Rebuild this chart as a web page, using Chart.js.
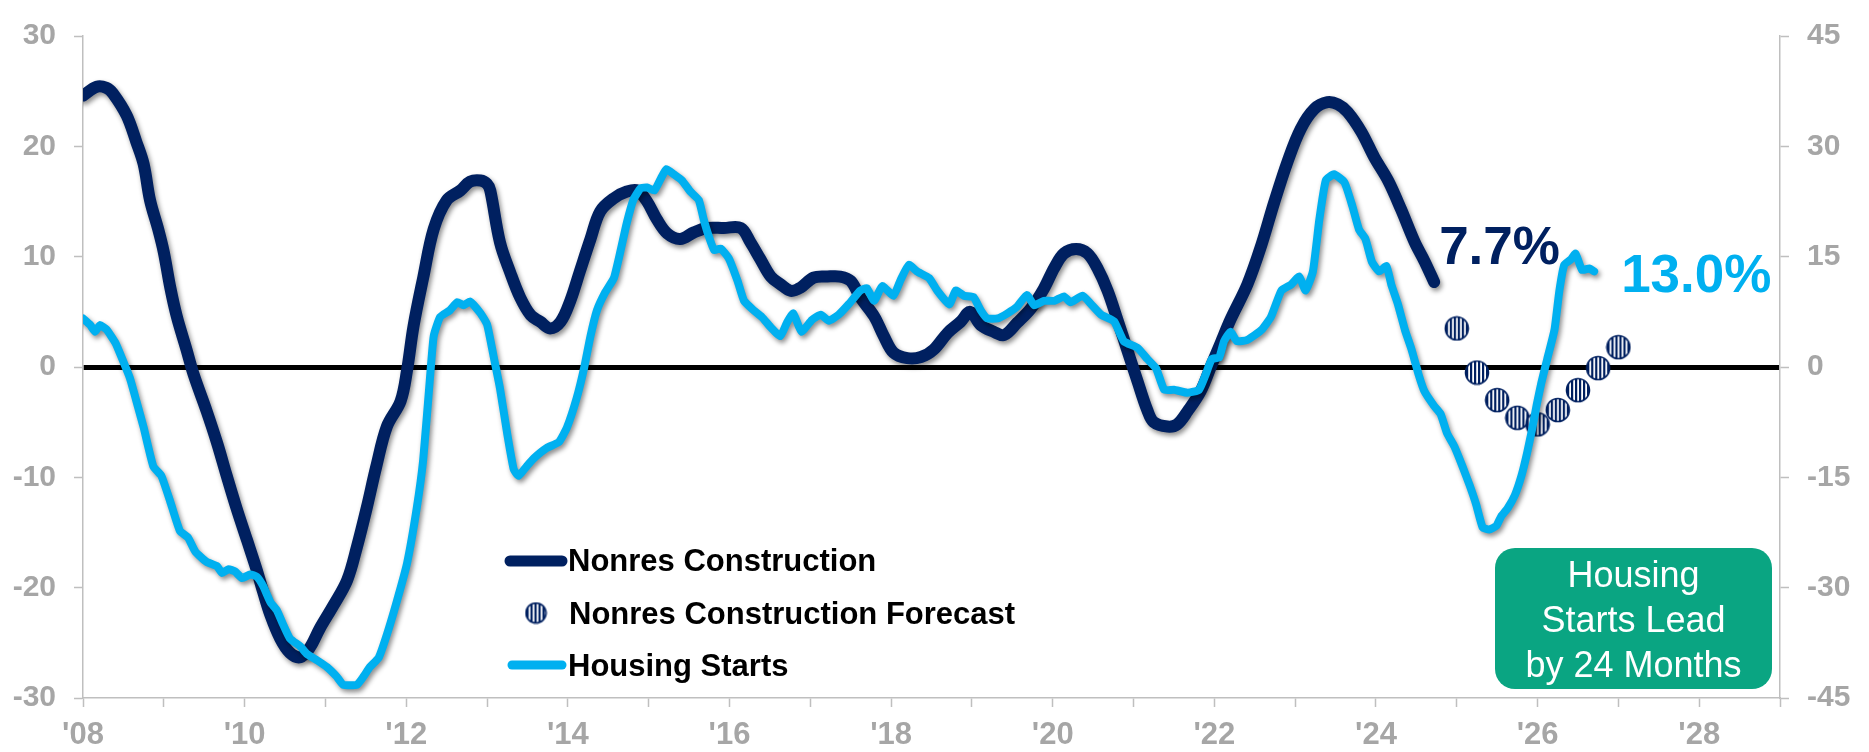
<!DOCTYPE html>
<html>
<head>
<meta charset="utf-8">
<title>Nonres Construction vs Housing Starts</title>
<script src="https://cdn.jsdelivr.net/npm/chart.js@4.4.1/dist/chart.umd.min.js"></script>
<style>
  html, body { margin: 0; padding: 0; background: #fff; }
  #wrap { width: 1869px; height: 752px; position: relative; }
</style>
</head>
<body>
<div id="wrap"><canvas id="myChart"></canvas></div>
<script>
// [year, % y/y]  -- nonresidential construction (left axis)
const nonresSeries = [
  [2008.00, 24.6], [2008.17, 25.4], [2008.29, 25.3], [2008.37, 24.8], [2008.54, 22.8],
  [2008.66, 20.4], [2008.75, 18.4], [2008.83, 15.1], [2008.93, 12.5], [2009.00, 10.4],
  [2009.08, 7.2], [2009.16, 4.6], [2009.28, 1.6], [2009.37, -0.7], [2009.53, -4.0],
  [2009.66, -6.9], [2009.78, -9.9], [2009.90, -12.8], [2010.03, -15.7], [2010.15, -18.4],
  [2010.23, -20.4], [2010.32, -22.5], [2010.44, -24.6], [2010.56, -25.9], [2010.69, -26.3],
  [2010.81, -25.4], [2010.93, -23.7], [2011.10, -21.6], [2011.27, -19.3], [2011.39, -16.3],
  [2011.51, -12.8], [2011.63, -9.0], [2011.76, -5.4], [2011.93, -3.1], [2012.01, -0.3],
  [2012.09, 3.7], [2012.21, 8.1], [2012.34, 12.5], [2012.50, 15.1], [2012.67, 16.0],
  [2012.79, 16.8], [2012.92, 16.9], [2013.00, 16.6], [2013.04, 16.0], [2013.16, 11.3],
  [2013.29, 8.5], [2013.41, 6.3], [2013.54, 4.7], [2013.66, 4.1], [2013.78, 3.5],
  [2013.91, 4.1], [2014.03, 6.0], [2014.15, 8.7], [2014.28, 11.6], [2014.40, 14.1],
  [2014.57, 15.3], [2014.73, 15.9], [2014.86, 16.0], [2014.98, 15.0], [2015.10, 13.4],
  [2015.23, 12.1], [2015.39, 11.6], [2015.56, 12.2], [2015.72, 12.6], [2015.93, 12.6],
  [2016.14, 12.6], [2016.26, 11.3], [2016.38, 9.8], [2016.51, 8.2], [2016.63, 7.5],
  [2016.76, 6.9], [2016.88, 7.2], [2017.04, 8.1], [2017.21, 8.2], [2017.37, 8.2],
  [2017.50, 7.8], [2017.62, 6.3], [2017.79, 4.6], [2017.91, 2.8], [2018.03, 1.3],
  [2018.20, 0.8], [2018.37, 0.9], [2018.53, 1.6], [2018.70, 3.1], [2018.86, 4.1],
  [2018.98, 5.0], [2019.11, 3.8], [2019.27, 3.2], [2019.40, 2.9], [2019.56, 4.0],
  [2019.73, 5.3], [2019.89, 7.1], [2020.02, 9.0], [2020.14, 10.3], [2020.29, 10.7],
  [2020.43, 10.3], [2020.55, 9.0], [2020.68, 6.9], [2020.80, 4.3], [2020.92, 1.6],
  [2021.05, -1.3], [2021.17, -3.9], [2021.25, -5.0], [2021.42, -5.4], [2021.54, -5.2],
  [2021.67, -4.0], [2021.83, -2.2], [2021.96, 0.1], [2022.08, 2.2], [2022.20, 4.3],
  [2022.41, 7.5], [2022.58, 11.0], [2022.74, 14.9], [2022.91, 18.7], [2023.07, 21.6],
  [2023.24, 23.4], [2023.40, 24.0], [2023.53, 23.8], [2023.65, 23.1], [2023.82, 21.3],
  [2023.98, 19.0], [2024.15, 16.9], [2024.31, 14.3], [2024.48, 11.3], [2024.60, 9.6],
  [2024.72, 7.7]
];

// quarterly forecast (left axis)
const forecastSeries = [
  [2025.00, 3.5], [2025.25, -0.5], [2025.50, -3.0], [2025.75, -4.6], [2026.00, -5.2],
  [2026.25, -3.9], [2026.50, -2.1], [2026.75, -0.1], [2027.00, 1.8]
];

// housing starts, shifted forward 24 months (right axis)
const housingSeries = [
  [2008.00, 6.6], [2008.09, 5.7], [2008.15, 4.8], [2008.21, 5.7], [2008.29, 5.1],
  [2008.40, 3.3], [2008.50, 0.7], [2008.58, -1.5], [2008.66, -4.6], [2008.75, -8.2],
  [2008.87, -13.5], [2008.97, -14.8], [2009.08, -18.3], [2009.20, -22.3], [2009.30, -23.2],
  [2009.39, -25.1], [2009.53, -26.5], [2009.66, -27.1], [2009.72, -28.0], [2009.80, -27.5],
  [2009.88, -27.8], [2009.97, -28.7], [2010.07, -28.2], [2010.15, -28.5], [2010.23, -29.8],
  [2010.32, -32.0], [2010.40, -33.1], [2010.48, -35.1], [2010.56, -36.9], [2010.69, -38.0],
  [2010.77, -39.0], [2010.90, -39.9], [2011.02, -40.8], [2011.14, -42.1], [2011.22, -43.2],
  [2011.39, -43.2], [2011.47, -42.1], [2011.55, -40.8], [2011.66, -39.5], [2011.76, -36.4],
  [2011.88, -32.0], [2012.01, -26.7], [2012.13, -19.2], [2012.21, -12.6], [2012.29, -2.0],
  [2012.34, 4.2], [2012.42, 6.8], [2012.54, 7.7], [2012.63, 8.8], [2012.71, 8.4],
  [2012.79, 8.9], [2012.92, 7.3], [2013.00, 5.8], [2013.08, 1.5], [2013.16, -2.9],
  [2013.25, -9.1], [2013.33, -13.9], [2013.39, -14.8], [2013.49, -13.5], [2013.58, -12.4],
  [2013.74, -11.0], [2013.89, -10.2], [2013.99, -8.2], [2014.11, -4.2], [2014.20, -0.2],
  [2014.28, 4.2], [2014.36, 7.7], [2014.46, 10.1], [2014.57, 12.1], [2014.65, 15.7],
  [2014.73, 19.6], [2014.81, 22.7], [2014.90, 24.3], [2014.98, 24.4], [2015.07, 24.0],
  [2015.15, 25.6], [2015.22, 26.9], [2015.31, 26.2], [2015.41, 25.4], [2015.52, 23.8],
  [2015.62, 22.7], [2015.68, 20.1], [2015.74, 17.9], [2015.81, 15.9], [2015.89, 16.1],
  [2015.99, 14.8], [2016.10, 11.7], [2016.18, 9.0], [2016.30, 7.7], [2016.40, 6.8],
  [2016.51, 5.4], [2016.63, 4.2], [2016.71, 6.0], [2016.79, 7.3], [2016.89, 4.8],
  [2017.02, 6.4], [2017.13, 7.1], [2017.23, 6.3], [2017.35, 7.1], [2017.48, 8.6],
  [2017.62, 10.4], [2017.70, 10.7], [2017.79, 9.0], [2017.89, 11.0], [2018.03, 9.7],
  [2018.12, 11.9], [2018.22, 13.9], [2018.32, 13.0], [2018.47, 12.1], [2018.57, 10.4],
  [2018.72, 8.5], [2018.80, 10.4], [2018.90, 9.7], [2019.02, 9.5], [2019.11, 7.7],
  [2019.19, 6.6], [2019.32, 6.6], [2019.44, 7.3], [2019.56, 8.2], [2019.68, 9.8],
  [2019.77, 8.4], [2019.89, 9.0], [2020.02, 9.0], [2020.14, 9.6], [2020.22, 8.8],
  [2020.37, 9.7], [2020.47, 8.6], [2020.60, 7.1], [2020.76, 6.2], [2020.88, 3.5],
  [2021.05, 2.6], [2021.17, 1.1], [2021.28, -0.2], [2021.38, -3.1], [2021.50, -3.1],
  [2021.67, -3.5], [2021.81, -3.1], [2021.89, -1.1], [2021.97, 1.1], [2022.06, 1.3],
  [2022.12, 3.5], [2022.20, 4.8], [2022.28, 3.5], [2022.41, 3.7], [2022.58, 5.0],
  [2022.70, 6.8], [2022.83, 10.4], [2022.95, 11.2], [2023.05, 12.3], [2023.13, 10.4],
  [2023.22, 13.0], [2023.30, 20.1], [2023.38, 25.4], [2023.48, 26.2], [2023.61, 25.1],
  [2023.71, 21.8], [2023.79, 18.7], [2023.87, 17.4], [2023.95, 14.3], [2024.04, 13.0],
  [2024.13, 13.7], [2024.19, 11.2], [2024.27, 8.6], [2024.36, 5.0], [2024.44, 2.4],
  [2024.53, -1.1], [2024.60, -3.3], [2024.72, -5.3], [2024.80, -6.4], [2024.88, -9.0],
  [2024.97, -10.8], [2025.07, -13.5], [2025.16, -16.1], [2025.24, -18.7], [2025.32, -21.8],
  [2025.40, -22.1], [2025.49, -21.6], [2025.55, -20.3], [2025.63, -19.2], [2025.72, -17.4],
  [2025.80, -14.8], [2025.87, -11.7], [2025.93, -8.6], [2025.99, -5.1], [2026.05, -2.0],
  [2026.12, 1.1], [2026.21, 5.1], [2026.27, 10.4], [2026.33, 13.9], [2026.41, 14.6],
  [2026.47, 15.4], [2026.55, 13.2], [2026.64, 13.4], [2026.70, 13.0]
];

const leftTicks = [-30, -20, -10, 0, 10, 20, 30];
const rightTicks = [-45, -30, -15, 0, 15, 30, 45];
const yearRange = [2008, 2029];

const NAVY = '#002060';
const SKY = '#00B0F0';
const GREEN = '#0AA582';
const AXIS_GRAY = '#BFBFBF';
const LABEL_GRAY = '#A6A6A6';
const FONT = "'Liberation Sans', Arial, sans-serif";

const toXY = pts => pts.map(p => ({ x: p[0], y: p[1] }));

// little striped circle used for the forecast points and the legend
function stripedDot(r) {
  const size = Math.ceil(r * 2 + 3);
  const c = document.createElement('canvas');
  c.width = size; c.height = size;
  const g = c.getContext('2d');
  const m = size / 2;
  g.beginPath(); g.arc(m, m, r, 0, Math.PI * 2); g.closePath();
  g.fillStyle = '#fff'; g.fill();
  g.save(); g.clip();
  g.fillStyle = NAVY;
  for (let x = Math.floor(m - r); x < m + r; x += 4) g.fillRect(x + 1, 0, 2.2, size);
  g.restore();
  g.lineWidth = 1.6; g.strokeStyle = NAVY; g.stroke();
  return c;
}
const dotImg = stripedDot(11.5);
const legendDot = stripedDot(10);

// soft drop shadow under the two lines
const lineShadow = {
  id: 'lineShadow',
  beforeDatasetDraw(chart, args) {
    if (!chart.data.datasets[args.index].shadow) return;
    const ctx = chart.ctx;
    ctx.save();
    ctx.shadowColor = 'rgba(0,0,0,0.45)';
    ctx.shadowBlur = 5;
    ctx.shadowOffsetX = 2;
    ctx.shadowOffsetY = 3;
  },
  afterDatasetDraw(chart, args) {
    if (!chart.data.datasets[args.index].shadow) return;
    chart.ctx.restore();
  }
};

// end labels, note box and legend
const overlays = {
  id: 'overlays',
  afterDraw(chart) {
    const ctx = chart.ctx;
    const x = chart.scales.x, yl = chart.scales.y, yr = chart.scales.y2;
    ctx.save();

    const lastN = nonresSeries[nonresSeries.length - 1];
    const lastH = housingSeries[housingSeries.length - 1];
    ctx.textAlign = 'left';
    ctx.textBaseline = 'alphabetic';
    ctx.font = 'bold 53px ' + FONT;
    ctx.fillStyle = NAVY;
    ctx.fillText(lastN[1].toFixed(1) + '%', x.getPixelForValue(lastN[0]) + 5, yl.getPixelForValue(lastN[1]) - 18);
    ctx.fillStyle = SKY;
    ctx.fillText(lastH[1].toFixed(1) + '%', x.getPixelForValue(lastH[0]) + 27, yr.getPixelForValue(lastH[1]) + 21);

    // note box
    const bx = 1495, by = 548, bw = 277, bh = 141;
    ctx.fillStyle = GREEN;
    ctx.beginPath();
    ctx.roundRect(bx, by, bw, bh, 20);
    ctx.fill();
    ctx.fillStyle = '#fff';
    ctx.textAlign = 'center';
    ctx.font = '36px ' + FONT;
    ['Housing', 'Starts Lead', 'by 24 Months'].forEach((t, i) => {
      ctx.fillText(t, bx + bw / 2, 587 + i * 45);
    });

    // legend
    ctx.lineCap = 'round';
    ctx.strokeStyle = NAVY; ctx.lineWidth = 11;
    ctx.beginPath(); ctx.moveTo(510, 561); ctx.lineTo(562, 561); ctx.stroke();
    ctx.drawImage(legendDot, 536 - legendDot.width / 2, 613 - legendDot.height / 2);
    ctx.strokeStyle = SKY; ctx.lineWidth = 9;
    ctx.beginPath(); ctx.moveTo(512, 665); ctx.lineTo(562, 665); ctx.stroke();
    ctx.fillStyle = '#000';
    ctx.textAlign = 'left';
    ctx.font = 'bold 31px ' + FONT;
    ctx.fillText('Nonres Construction', 568, 571);
    ctx.fillText('Nonres Construction Forecast', 569, 624);
    ctx.fillText('Housing Starts', 568, 676);
    ctx.restore();
  }
};

const tickFont = { family: FONT, size: 30, weight: 'bold' };

new Chart(document.getElementById('myChart'), {
  type: 'line',
  data: {
    datasets: [
      {
        label: 'Housing Starts',
        data: toXY(housingSeries),
        yAxisID: 'y2',
        borderColor: SKY,
        borderWidth: 8,
        pointRadius: 0,
        tension: 0.15,
        borderJoinStyle: 'round',
        borderCapStyle: 'round',
        shadow: true,
        order: 1
      },
      {
        label: 'Nonres Construction Forecast',
        data: toXY(forecastSeries),
        yAxisID: 'y',
        showLine: false,
        pointStyle: dotImg,
        pointRadius: 12,
        order: 2
      },
      {
        label: 'Nonres Construction',
        data: toXY(nonresSeries),
        yAxisID: 'y',
        borderColor: NAVY,
        borderWidth: 12,
        pointRadius: 0,
        tension: 0.35,
        borderJoinStyle: 'round',
        borderCapStyle: 'round',
        shadow: true,
        order: 3
      }
    ]
  },
  options: {
    responsive: true,
    maintainAspectRatio: false,
    animation: false,
    layout: { padding: { top: 18, right: 0, left: 0, bottom: 0 } },
    plugins: { legend: { display: false }, tooltip: { enabled: false } },
    scales: {
      x: {
        type: 'linear',
        min: yearRange[0],
        max: yearRange[1],
        afterFit: s => { s.height = 54; },
        afterBuildTicks: s => {
          s.ticks = [];
          for (let v = yearRange[0]; v <= yearRange[1]; v++) s.ticks.push({ value: v });
        },
        ticks: {
          autoSkip: false,
          maxRotation: 0,
          padding: 10,
          color: LABEL_GRAY,
          font: { family: FONT, size: 31, weight: 'bold' },
          callback: v => (v % 2 === 0 && v < yearRange[1]) ? "'" + String(v).slice(2) : ''
        },
        grid: { drawOnChartArea: false, tickLength: 9, tickColor: AXIS_GRAY, tickWidth: 1.5 },
        border: { color: AXIS_GRAY, width: 1.5 }
      },
      y: {
        position: 'left',
        min: leftTicks[0],
        max: leftTicks[leftTicks.length - 1],
        afterFit: s => { s.width = 83; },
        afterBuildTicks: s => { s.ticks = leftTicks.map(v => ({ value: v })); },
        ticks: { padding: 18, color: LABEL_GRAY, font: tickFont },
        grid: {
          color: c => (c.tick && c.tick.value === 0) ? '#000' : 'rgba(0,0,0,0)',
          lineWidth: c => (c.tick && c.tick.value === 0) ? 5 : 1,
          tickLength: 9, tickColor: AXIS_GRAY, tickWidth: 1.5
        },
        border: { color: AXIS_GRAY, width: 1.5 }
      },
      y2: {
        position: 'right',
        min: rightTicks[0],
        max: rightTicks[rightTicks.length - 1],
        afterFit: s => { s.width = 89; },
        afterBuildTicks: s => { s.ticks = rightTicks.map(v => ({ value: v })); },
        ticks: { padding: 18, color: LABEL_GRAY, font: tickFont },
        grid: { drawOnChartArea: false, tickLength: 9, tickColor: AXIS_GRAY, tickWidth: 1.5 },
        border: { color: AXIS_GRAY, width: 1.5 }
      }
    }
  },
  plugins: [lineShadow, overlays]
});
</script>
</body>
</html>
